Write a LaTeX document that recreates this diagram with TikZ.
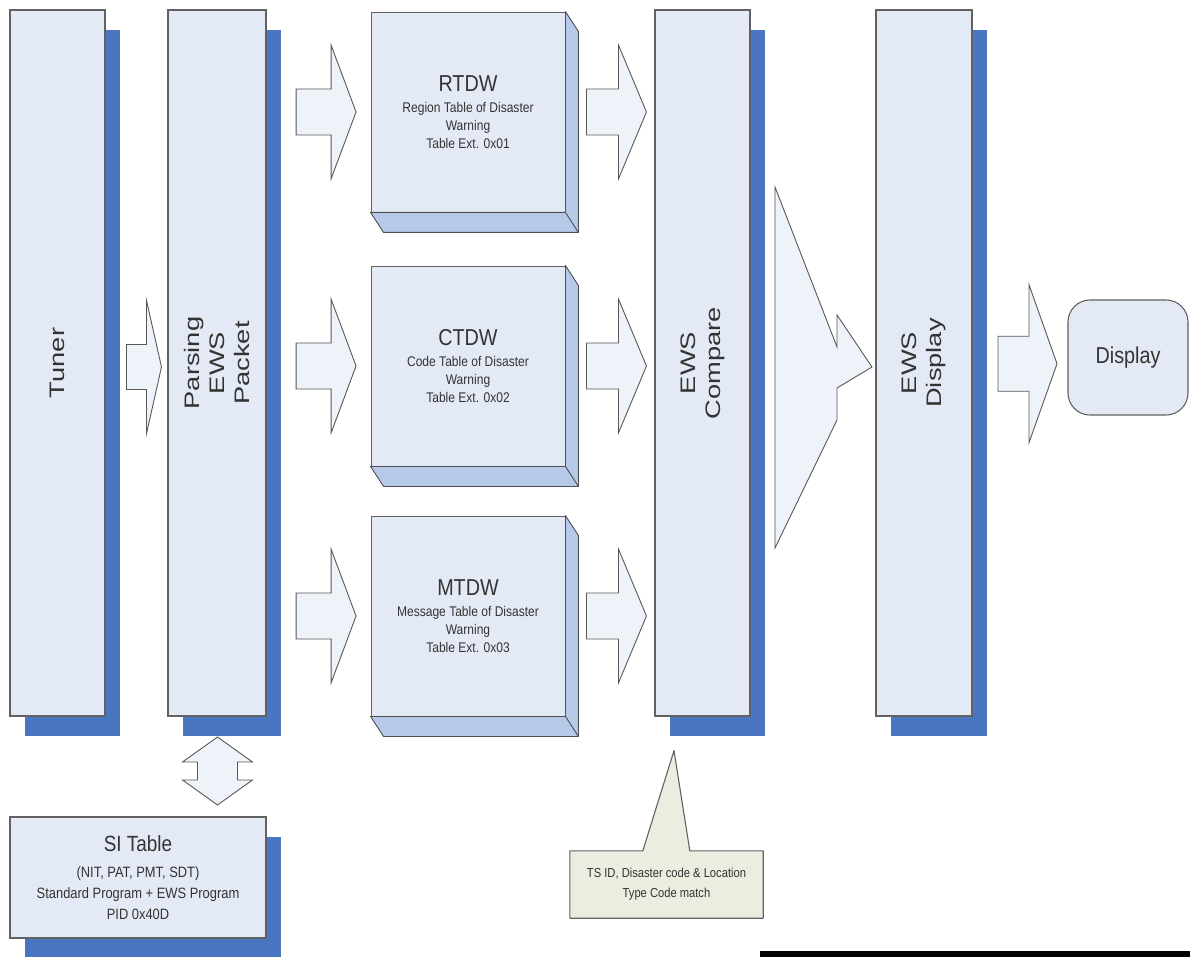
\documentclass[tikz,border=0pt]{standalone}
\usepackage{fontspec}
\setmainfont{Liberation Sans}
\newfontfamily\flatsans[FakeStretch=0.86]{Liberation Sans}
\newfontfamily\tallsans[FakeStretch=1.3]{Liberation Sans}
\usetikzlibrary{calc,shadows}
\definecolor{PanelFill}{HTML}{E4EAF5}
\definecolor{PanelShade}{HTML}{4A75C0}
\definecolor{PanelEdge}{HTML}{626262}
\definecolor{SideFace}{HTML}{B7C9E8}
\definecolor{NoteFill}{HTML}{ECECE0}
\definecolor{ArrowFill}{HTML}{EEF2F9}
\definecolor{InkGrey}{HTML}{333333}

\tikzset{
  shade/.style={drop shadow={shadow xshift=15pt, shadow yshift=-20pt,
    fill=PanelShade, opacity=1}},
  column/.style={shade, draw=PanelEdge, fill=PanelFill, line width=1.1pt,
    minimum width=95pt, minimum height=706pt},
  coltext/.style={rotate=90, align=center, text=InkGrey,
    font=\tallsans\fontsize{21}{25}\selectfont},
  tablebox/.style={draw=PanelEdge, fill=PanelFill, line width=0.9pt,
    minimum width=194pt, minimum height=200pt, align=center, text=InkGrey,
    font=\flatsans\fontsize{14}{18}\selectfont},
  sideface/.style={draw=PanelEdge!80!black, fill=SideFace, line width=0.9pt,
    line join=round},
  arrowbody/.style={draw=PanelEdge!90!black, fill=ArrowFill, line width=0.9pt},
  % #1 length, #2 head length, #3 half shaft, #4 half head
  pics/fatarrow/.style n args={4}{code={
    \filldraw[arrowbody] (-#1/2,-#3) -- (#1/2-#2,-#3) -- (#1/2-#2,-#4) -- (#1/2,0)
      -- (#1/2-#2,#4) -- (#1/2-#2,#3) -- (-#1/2,#3) -- cycle;}},
}

\begin{document}
\begin{tikzpicture}[x=1pt,y=-1pt]
  \useasboundingbox (0,0) rectangle (1190,957);

  % tall processing stages
  \node[column] (tuner) at (57.5,363) {};
  \node[column,minimum width=98pt] (parse) at (217,363) {};
  \node[column] (cmp) at (702.5,363) {};
  \node[column,minimum width=96pt] (disp) at (924,363) {};
  \node[coltext] (tuner-t) at (tuner) {Tuner};
  \node[coltext] (parse-t) at (parse) {Parsing\\EWS\\Packet};
  \node[coltext] (cmp-t) at (cmp) {EWS\\Compare};
  \node[coltext] (disp-t) at (disp) {EWS\\Display};

  % the three warning tables
  \node[tablebox] (rtdw) at (468,112) {{\fontsize{23}{26}\selectfont RTDW}\\[3pt]Region Table of Disaster\\Warning\\Table Ext. 0x01};
  \node[tablebox] (ctdw) at (468,366) {{\fontsize{23}{26}\selectfont CTDW}\\[3pt]Code Table of Disaster\\Warning\\Table Ext. 0x02};
  \node[tablebox] (mtdw) at (468,616) {{\fontsize{23}{26}\selectfont MTDW}\\[3pt]Message Table of Disaster\\Warning\\Table Ext. 0x03};
  \foreach \t in {rtdw,ctdw,mtdw}{
    \filldraw[sideface] (\t.north east) -- ([shift={(13,20)}]\t.north east)
      -- ([shift={(13,20)}]\t.south east) -- ([shift={(13,20)}]\t.south west)
      -- (\t.south west) -- (\t.south east) -- cycle;
    \draw[sideface] (\t.south east) -- ([shift={(13,20)}]\t.south east);
  }

  % output
  \node[draw=PanelEdge, fill=PanelFill, line width=1.1pt, rounded corners=22pt,
    minimum width=120pt, minimum height=115pt, text=InkGrey,
    font=\flatsans\fontsize{23}{26}\selectfont] (out) at (1128,357.5) {Display};

  % SI table below the parser
  \node[tablebox, shade, line width=1.1pt, minimum width=256pt, minimum height=121pt,
    font=\flatsans\fontsize{15}{21}\selectfont] (si) at (138,877.5)
    {{\fontsize{22}{24}\selectfont SI Table}\\[5pt](NIT, PAT, PMT, SDT)\\Standard Program + EWS Program\\PID 0x40D};

  % block arrows
  \pic at ($(tuner.east)!0.5!(parse.west)+(7.5,4)$) {fatarrow={35}{15}{22.5}{66.5}};
  \foreach \t in {rtdw,ctdw,mtdw}{
    \pic at ($(parse.east |- \t)!0.5!(\t.west)+(7.5,0)$) {fatarrow={60}{25}{23}{67}};
    \pic at ($(\t.east)!0.5!(cmp.west |- \t)+(6.5,0)$) {fatarrow={60}{28}{23}{67}};
  }
  \pic at ($(disp.east)!0.5!(out.west)+(7.5,3.5)$) {fatarrow={59}{28}{27.5}{79}};

  \coordinate (fan) at ($(cmp.east)!0.5!(disp.west)+(-38,4)$);
  \filldraw[arrowbody,shift={(fan)}] (0,-180) -- (62,-20) -- (62,-52) -- (97,0)
    -- (62,21) -- (62,53) -- (0,181) -- cycle;

  \coordinate (swap) at ($(parse.south)!0.5!(parse.south |- si.north)+(0.5,4.5)$);
  \filldraw[arrowbody,shift={(swap)}] (0,-34) -- (35,-9) -- (20,-9) -- (20,9)
    -- (35,9) -- (0,34) -- (-35,9) -- (-20,9) -- (-20,-9) -- (-35,-9) -- cycle;

  % callout on the compare stage
  \node[fill=NoteFill, minimum width=193pt, minimum height=67pt, align=center,
    text=InkGrey, font=\flatsans\fontsize{13}{20}\selectfont] (note) at (666.5,884.5)
    {TS ID, Disaster code \& Location\\Type Code match};
  \coordinate (hint) at ($(cmp.south)+(-28.5,34)$);
  \coordinate (hint-l) at ($(note.north west)+(73,0)$);
  \coordinate (hint-r) at ($(note.north west)+(120,0)$);
  \fill[NoteFill] (hint-l) -- (hint) -- (hint-r) -- cycle;
  \draw[draw=PanelEdge, line width=1.1pt, line join=round] (note.north west) -- (hint-l)
    -- (hint) -- (hint-r) -- (note.north east) -- (note.south east) -- (note.south west) -- cycle;

  \fill[black] (760,951) rectangle (1190,957);
\end{tikzpicture}
\end{document}
